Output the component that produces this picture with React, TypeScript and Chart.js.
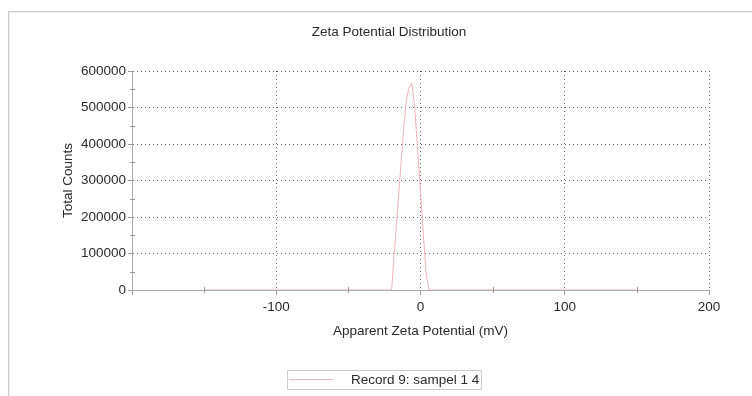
import React, { useEffect, useRef } from "react";
import { Chart, registerables } from "chart.js";

Chart.register(...registerables);

// ---- data ----
const potentialMv: number[] = [-150, -100, -50, -20, -18, -16, -14, -12, -10, -8, -6, -4, -2, 0, 2, 4, 6, 50, 100, 150];
const totalCounts: number[] = [0, 0, 0, 0, 110000, 215000, 320000, 425000, 515000, 553000, 567000, 500000, 385000, 268000, 150000, 40000, 0, 0, 0, 0];
const xTickValues: number[] = [-200, -100, 0, 100, 200];
const xMinorTicks: number[] = [-150, -50, 50, 150];
const yMinorTicks: number[] = [50000, 150000, 250000, 350000, 450000, 550000];
const chartTitle = "Zeta Potential Distribution";
const xTitle = "Apparent Zeta Potential (mV)";
const yTitle = "Total Counts";
const seriesLabel = "Record 9: sampel 1 4";

const FONT = '"Liberation Sans", Arial, Helvetica, sans-serif';
const FS = 13.5;
const TEXT = "#2a2a2a";
const LINE = "#efb3b7";

export default function App() {
  const ref = useRef<HTMLCanvasElement | null>(null);

  useEffect(() => {
    if (!ref.current) return;
    const points = potentialMv.map((x, i) => ({ x, y: totalCounts[i] }));

    const decor = {
      id: "decor",
      afterDraw(chart: any) {
        const ctx = chart.ctx as CanvasRenderingContext2D;
        const xs = chart.scales.x;
        const ys = chart.scales.y;
        const area = chart.chartArea;
        ctx.save();
        // minor ticks
        ctx.strokeStyle = "#999";
        ctx.lineWidth = 1;
        ctx.beginPath();
        yMinorTicks.forEach((v) => {
          const py = Math.round(ys.getPixelForValue(v)) + 0.5;
          ctx.moveTo(area.left - 2, py);
          ctx.lineTo(area.left + 3, py);
        });
        xMinorTicks.forEach((v) => {
          const px = Math.round(xs.getPixelForValue(v)) + 0.5;
          ctx.moveTo(px, area.bottom - 3);
          ctx.lineTo(px, area.bottom + 3);
        });
        ctx.stroke();
        // title
        ctx.fillStyle = TEXT;
        ctx.font = `${FS}px ${FONT}`;
        ctx.textAlign = "center";
        ctx.textBaseline = "middle";
        ctx.fillText(chartTitle, 389, 32);
        // legend
        ctx.strokeStyle = "#cccccc";
        ctx.strokeRect(287.5, 370.5, 194, 19);
        ctx.strokeStyle = LINE;
        ctx.beginPath();
        ctx.moveTo(289, 379.5);
        ctx.lineTo(333, 379.5);
        ctx.stroke();
        ctx.textAlign = "left";
        ctx.fillStyle = TEXT;
        ctx.fillText(chart.data.datasets[0].label, 351, 380);
        ctx.restore();
      },
    };

    const chart = new Chart(ref.current, {
      type: "line",
      data: {
        datasets: [
          {
            label: seriesLabel,
            data: points,
            borderColor: LINE,
            backgroundColor: LINE,
            borderWidth: 1,
            pointRadius: 0,
            tension: 0,
            fill: false,
          },
        ],
      },
      options: {
        responsive: false,
        animation: false,
        devicePixelRatio: 1,
        layout: { padding: { top: 71, right: 43, left: 0, bottom: 46 } },
        plugins: {
          legend: { display: false },
          title: { display: false },
          tooltip: { enabled: false },
        },
        scales: {
          x: {
            type: "linear",
            min: -200,
            max: 200,
            afterBuildTicks: (scale: any) => {
              scale.ticks = xTickValues.map((v) => ({ value: v }));
            },
            afterFit: (scale: any) => {
              scale.height = 60;
            },
            ticks: {
              color: TEXT,
              font: { family: FONT, size: FS },
              padding: 4,
              maxRotation: 0,
              autoSkip: false,
              callback: (v: any) => (v === -200 ? "" : String(v)),
            },
            grid: {
              color: "#666",
              lineWidth: 1,
              tickLength: 5,
              tickColor: "#999",
              tickBorderDash: [],
            },
            border: { display: true, color: "#aaa", width: 1, dash: [1, 3] },
            title: {
              display: true,
              text: xTitle,
              color: TEXT,
              font: { family: FONT, size: FS },
              padding: { top: 0, bottom: 11 },
            },
          },
          y: {
            type: "linear",
            min: 0,
            max: 600000,
            afterFit: (scale: any) => {
              scale.width = 132;
            },
            ticks: {
              stepSize: 100000,
              color: TEXT,
              font: { family: FONT, size: FS },
              padding: 2,
              callback: (v: any) => String(v),
            },
            grid: {
              color: "#666",
              lineWidth: 1,
              tickLength: 4,
              tickColor: "#999",
              tickBorderDash: [],
            },
            border: { display: true, color: "#aaa", width: 1, dash: [1, 3] },
            title: {
              display: true,
              text: yTitle,
              color: TEXT,
              font: { family: FONT, size: FS },
              padding: { top: 60, bottom: 0 },
            },
          },
        },
      },
      plugins: [decor],
    } as any);

    return () => chart.destroy();
  }, []);

  return (
    <div>
      <div
        style={{
          position: "absolute",
          left: 8,
          top: 11,
          width: 744,
          height: 385,
          borderLeft: "1px solid #cfcfcf",
          borderTop: "1px solid #cfcfcf",
          boxShadow: "inset 1px 1px 0 #ececec",
          boxSizing: "border-box",
        }}
      />
      <canvas
        ref={ref}
        width={752}
        height={396}
        style={{ position: "absolute", left: 0, top: 0, width: 752, height: 396 }}
      />
    </div>
  );
}
